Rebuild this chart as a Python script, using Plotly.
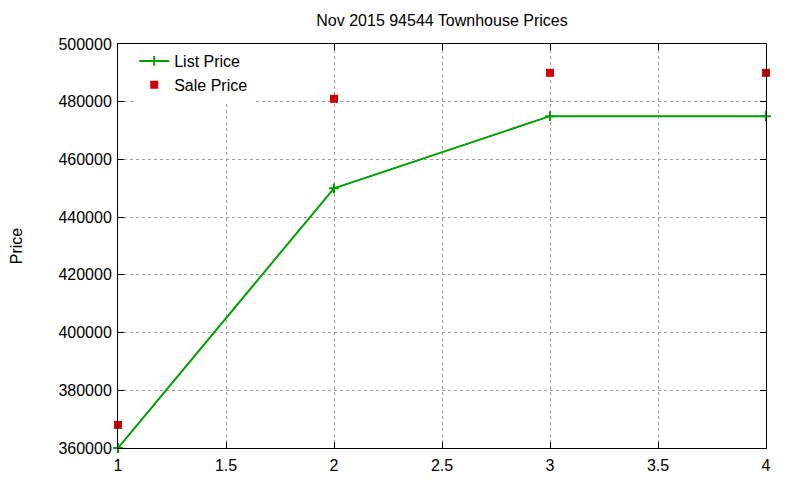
import plotly.graph_objects as go

x_vals = [1, 2, 3, 4]
list_price = [360000, 450000, 475000, 475000]
sale_price = [368000, 481000, 490000, 490000]

y_ticks = [360000, 380000, 400000, 420000, 440000, 460000, 480000, 500000]
x_ticks = [1, 1.5, 2, 2.5, 3, 3.5, 4]

fig = go.Figure()
fig.add_trace(go.Scatter(x=x_vals, y=list_price, name="List Price",
                         mode="lines+markers",
                         line=dict(color="#00a000", width=2),
                         marker=dict(symbol="cross-thin", size=7,
                                     line=dict(color="#00a000", width=2)),
                         cliponaxis=False))
fig.add_trace(go.Scatter(x=x_vals, y=sale_price, name="Sale Price",
                         mode="markers",
                         marker=dict(symbol="square", size=8, color="#d00000"),
                         cliponaxis=False))

axis_common = dict(showline=True, linecolor="black", linewidth=1, mirror="allticks",
                   ticks="inside", ticklen=6, tickcolor="black",
                   showgrid=True, gridcolor="#a0a0a0", griddash="dot", gridwidth=1,
                   zeroline=False, automargin=False,
                   tickfont=dict(size=16, color="black"))

# page body has an 8px margin, margins below account for that
fig.update_xaxes(range=[1, 4], tickvals=x_ticks, ticktext=[str(v) for v in x_ticks],
                 ticklabelstandoff=3, **axis_common)
fig.update_yaxes(range=[360000, 500000], tickvals=y_ticks, ticktext=[str(v) for v in y_ticks],
                 ticklabelstandoff=2,
                 title=dict(text="Price", font=dict(size=16, color="black"), standoff=36),
                 **axis_common)

fig.update_layout(
    width=800, height=480,
    margin=dict(l=110, r=42, t=36, b=40),
    paper_bgcolor="white", plot_bgcolor="white",
    font=dict(family="Liberation Sans, Arial, sans-serif", size=16, color="black"),
    title=dict(text="Nov 2015 94544 Townhouse Prices", x=0.5, xanchor="center",
               xref="paper", y=0.975, yanchor="middle",
               font=dict(size=16, color="black")),
    legend=dict(x=0.025, y=1.0, xanchor="left", yanchor="top",
                bgcolor="white", borderwidth=0, font=dict(size=16),
                tracegroupgap=0, itemwidth=30),
    showlegend=True,
)

fig.write_html("out.html")
